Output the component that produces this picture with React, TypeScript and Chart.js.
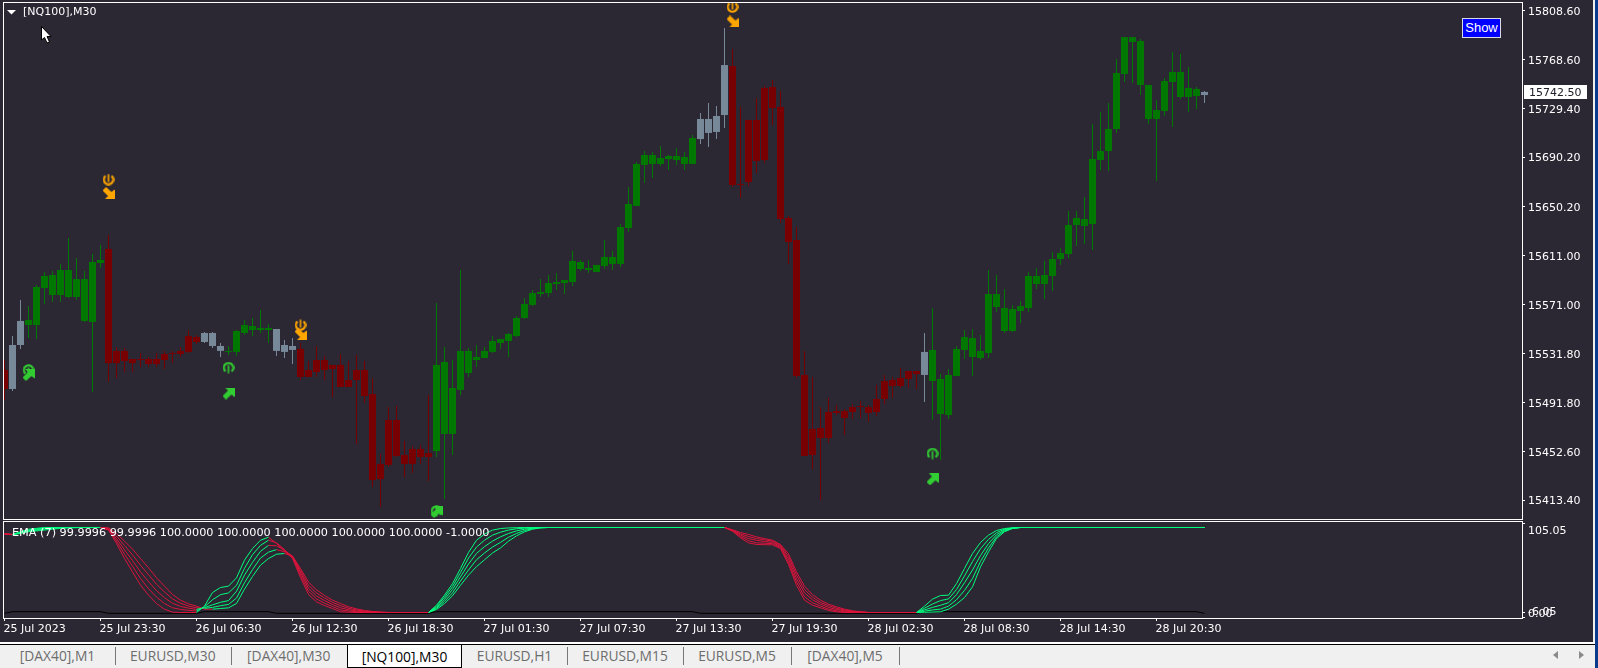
import React, { useEffect, useRef } from "react";
import { Chart, registerables } from "chart.js";

Chart.register(...registerables);

const FONT = "'DejaVu Sans'";
const BG = "#2b2733";
const FRAME = "#ffffff";

const chartTitle = "[NQ100],M30";
const indicatorLegend = "EMA (7) 99.9996 99.9996 100.0000 100.0000 100.0000 100.0000 100.0000 -1.0000";
const lastPrice = 15742.5;

const priceTicks = [15808.6, 15768.6, 15729.4, 15690.2, 15650.2, 15611.0, 15571.0, 15531.8, 15491.8, 15452.6, 15413.4];
const timeTickBars = [0, 12, 24, 36, 48, 60, 72, 84, 96, 108, 120, 132, 144];
const timeTickLabels = ["25 Jul 2023", "25 Jul 23:30", "26 Jul 06:30", "26 Jul 12:30", "26 Jul 18:30", "27 Jul 01:30", "27 Jul 07:30", "27 Jul 13:30", "27 Jul 19:30", "28 Jul 02:30", "28 Jul 08:30", "28 Jul 14:30", "28 Jul 20:30"];
const tabNames = ["[DAX40],M1", "EURUSD,M30", "[DAX40],M30", "[NQ100],M30", "EURUSD,H1", "EURUSD,M15", "EURUSD,M5", "[DAX40],M5"];
const tabEdges = [0, 115, 230.5, 347, 462, 567, 683, 791, 899];

// r = bearish, g = bullish, n = neutral
const barTrend =
  "r" + "nn" + "gggggggggg" + "rrrrrrrrrrrr" + "nnn" + "gggggg" + "nnn" + "rrrrrrrrrrrrrrrrr" +
  "ggggggggggggggggggggggggggggggggg" + "nnnn" + "rrrrrrrrrrrrrrrrrrrrrrrr" + "n" +
  "gggggggggggggggggggggggggggggggggg" + "n";

const barHigh = [
  15526.4, 15545.7, 15574.8, 15569.9, 15586.9, 15597.4, 15598.2, 15603.9, 15624.8, 15608.7, 15598.2, 15611.9, 15619.2,
  15627.3, 15536.9, 15536.1, 15527.2, 15532.0, 15528.8, 15532.0, 15533.7, 15533.7, 15536.9, 15550.6, 15546.6,
  15549.0, 15549.0, 15540.1, 15537.7, 15550.6, 15558.7, 15560.3, 15566.7, 15555.4, 15551.4, 15542.5, 15544.1,
  15540.1, 15525.6, 15537.7, 15529.6, 15522.4, 15531.2, 15525.6, 15530.4, 15525.6, 15511.9, 15450.5, 15488.4, 15489.2, 15461.0, 15457.0, 15457.8, 15498.1,
  15572.4, 15536.9, 15526.4, 15599.0, 15536.1, 15538.5, 15536.9, 15545.7, 15543.3, 15548.2, 15561.9, 15576.4, 15582.9, 15591.7, 15595.0, 15596.6, 15590.9, 15614.3, 15607.1, 15607.1, 15603.1, 15623.2, 15614.3, 15636.1, 15666.0, 15686.2, 15695.0, 15694.2, 15699.1, 15691.8, 15697.5, 15694.2, 15708.0,
  15725.7, 15733.8, 15731.4, 15794.3,
  15777.4, 15730.6, 15720.1, 15737.8, 15747.5, 15752.3, 15743.5, 15642.6, 15633.7, 15533.7, 15512.7, 15488.4, 15495.7, 15490.1, 15486.8, 15490.9, 15493.3, 15490.1, 15506.2, 15514.3, 15512.7, 15519.9, 15517.5, 15517.5,
  15548.2,
  15568.3, 15515.1, 15519.1, 15537.7, 15550.6, 15551.4, 15546.6, 15599.0, 15595.0, 15583.7, 15570.8, 15574.0, 15597.4, 15600.6, 15606.3, 15613.5, 15616.8, 15646.6, 15646.6, 15657.9, 15716.8, 15726.5, 15733.8, 15769.3, 15787.0, 15787.0, 15785.4, 15748.3, 15736.2, 15753.9, 15775.0, 15773.3, 15762.8, 15746.7,
  15743.5,
];

const bodyHigh = [
  15518.3, 15538.5, 15557.9, 15558.7, 15585.3, 15594.2, 15595.0, 15599.0, 15599.0, 15591.7, 15591.7, 15605.5, 15607.1,
  15616.0, 15533.7, 15533.7, 15527.2, 15527.2, 15527.2, 15527.2, 15531.2, 15532.0, 15533.7, 15545.7, 15544.9,
  15548.2, 15548.2, 15537.7, 15533.7, 15549.8, 15554.6, 15553.8, 15552.2, 15552.2, 15551.4, 15538.5, 15537.7,
  15535.3, 15518.3, 15526.4, 15526.4, 15522.4, 15522.4, 15510.2, 15518.3, 15518.3, 15498.9, 15442.5, 15478.0, 15478.0, 15449.7, 15454.6, 15454.6, 15451.3,
  15522.4, 15524.8, 15503.8, 15533.7, 15533.7, 15528.8, 15533.7, 15541.7, 15543.3, 15547.4, 15560.3, 15571.6, 15580.4, 15581.2, 15588.5, 15589.3, 15590.9, 15606.3, 15605.5, 15600.6, 15603.1, 15609.5, 15609.5, 15633.7, 15652.3, 15684.6, 15691.8, 15691.8, 15689.4, 15691.0, 15691.0, 15690.2, 15705.5,
  15720.9, 15720.9, 15723.3, 15764.4,
  15763.6, 15668.4, 15720.1, 15720.1, 15745.9, 15746.7, 15730.6, 15641.0, 15623.2, 15514.3, 15470.7, 15471.5, 15484.4, 15485.2, 15485.2, 15488.4, 15489.2, 15488.4, 15494.9, 15509.4, 15510.2, 15511.9, 15517.5, 15517.5,
  15532.9,
  15534.5, 15511.1, 15514.3, 15535.3, 15544.9, 15544.1, 15533.7, 15579.6, 15579.6, 15568.3, 15567.5, 15569.9, 15594.2, 15594.2, 15595.0, 15607.9, 15612.7, 15635.3, 15641.0, 15640.2, 15688.6, 15695.0, 15712.8, 15758.0, 15787.0, 15787.0, 15783.8, 15748.3, 15728.1, 15751.5, 15758.8, 15758.8, 15745.9, 15745.1,
  15742.7,
];

const bodyLow = [
  15503.0, 15503.0, 15538.5, 15554.6, 15554.6, 15584.5, 15578.8, 15578.8, 15577.2, 15577.2, 15557.9, 15557.1, 15604.7,
  15523.9, 15523.9, 15525.6, 15523.9, 15526.4, 15523.2, 15523.2, 15526.4, 15531.2, 15531.2, 15532.9, 15540.9,
  15540.9, 15537.7, 15533.7, 15532.9, 15532.9, 15548.2, 15550.6, 15550.6, 15550.6, 15533.7, 15532.9, 15534.5,
  15512.7, 15512.7, 15516.7, 15518.3, 15519.1, 15504.6, 15504.6, 15510.2, 15497.3, 15429.5, 15430.3, 15441.7, 15448.9, 15442.5, 15442.5, 15448.1, 15448.1,
  15452.9, 15466.7, 15466.7, 15502.2, 15515.9, 15526.4, 15528.0, 15532.9, 15540.1, 15541.7, 15545.7, 15560.3, 15570.8, 15579.6, 15580.4, 15587.7, 15588.5, 15589.3, 15599.8, 15599.0, 15597.4, 15602.3, 15603.9, 15603.9, 15632.9, 15650.7, 15683.8, 15684.6, 15684.6, 15688.6, 15687.8, 15684.6, 15684.6,
  15704.7, 15709.6, 15710.4, 15724.1,
  15667.6, 15667.6, 15670.0, 15687.0, 15687.8, 15729.7, 15640.2, 15621.6, 15513.5, 15448.9, 15449.7, 15463.4, 15463.4, 15483.6, 15479.6, 15484.4, 15488.4, 15483.6, 15484.4, 15494.9, 15505.4, 15505.4, 15511.1, 15515.1,
  15514.3,
  15509.4, 15482.8, 15482.0, 15513.5, 15534.5, 15528.8, 15528.0, 15532.0, 15569.1, 15549.8, 15549.8, 15565.9, 15568.3, 15587.7, 15587.7, 15594.2, 15607.9, 15611.9, 15635.3, 15634.5, 15636.1, 15687.8, 15695.0, 15712.8, 15757.2, 15783.0, 15748.3, 15720.9, 15720.9, 15727.3, 15750.7, 15738.6, 15738.6, 15739.4,
  15740.2,
];

const barLow = [
  15494.1, 15501.4, 15535.3, 15544.1, 15543.3, 15571.6, 15573.2, 15573.2, 15576.4, 15574.8, 15557.1, 15500.6, 15600.6,
  15508.6, 15511.9, 15516.7, 15516.7, 15520.7, 15520.7, 15520.7, 15519.1, 15523.9, 15528.8, 15532.0, 15539.3,
  15540.1, 15536.1, 15528.8, 15530.4, 15529.6, 15546.6, 15545.7, 15548.2, 15540.1, 15529.6, 15528.0, 15523.2,
  15510.2, 15512.7, 15512.7, 15510.2, 15496.5, 15504.6, 15504.6, 15458.6, 15491.7, 15423.9, 15407.7, 15440.0, 15448.1, 15432.0, 15435.2, 15442.5, 15428.7,
  15448.1, 15414.2, 15449.7, 15498.1, 15512.7, 15520.7, 15528.0, 15532.0, 15535.3, 15528.8, 15544.9, 15559.5, 15569.9, 15577.2, 15577.2, 15582.9, 15579.6, 15586.1, 15598.2, 15596.6, 15597.4, 15599.8, 15599.0, 15601.4, 15629.7, 15650.7, 15669.2, 15673.2, 15683.0, 15679.7, 15683.8, 15679.7, 15684.6,
  15700.7, 15698.3, 15704.7, 15713.6,
  15666.0, 15657.1, 15666.8, 15677.3, 15685.4, 15716.0, 15636.9, 15603.9, 15511.9, 15448.9, 15438.4, 15413.4, 15459.4, 15482.0, 15465.9, 15478.8, 15479.6, 15476.4, 15481.2, 15490.9, 15495.7, 15503.8, 15503.8, 15503.0,
  15492.5,
  15478.0, 15445.7, 15478.8, 15513.5, 15527.2, 15513.5, 15526.4, 15528.0, 15565.1, 15548.2, 15549.0, 15556.2, 15565.1, 15583.7, 15575.6, 15582.1, 15603.1, 15608.7, 15618.4, 15620.0, 15615.2, 15679.7, 15678.9, 15709.6, 15750.7, 15749.9, 15740.2, 15716.8, 15670.8, 15723.3, 15714.4, 15737.0, 15726.5, 15728.9,
  15733.8,
];

const buyRingBars = [3, 28, 54, 116];
const buyRingPrices = [15518.3, 15520.2, 15404.5, 15450.9];
const buyArrowBars = [3, 28, 54, 116];
const buyArrowPrices = [15514.3, 15499.3, 15403.7, 15430.0];
const sellRingBars = [13, 37, 91];
const sellRingPrices = [15672.0, 15554.6, 15811.3];
const sellArrowBars = [13, 37, 91];
const sellArrowPrices = [15661.2, 15547.4, 15799.6];

const emaFast = [
  92.5, 91.9, 95, 98, 99, 100, 100, 100, 100, 100, 100, 100, 100,
  96.9, 81.2, 63.5, 47.8, 32.2, 20.4, 10.6, 3.9, 0.4, 0, 0, 0,
  7.5, 23.5, 29.4, 31, 40.8, 61.6, 75.3, 85, 88.6, 81.2, 72.5, 63.5,
  41.2, 21.2, 12.5, 8.2, 4.7, 0.8, 0.4, 0, 0, 0, 0,
  0, 0, 0, 0, 0, 0,
  8.6, 20.4, 34, 51.8, 70.6, 85, 92.2, 96.9, 98.8, 99.5, 99.8, 100, 100, 100,
  100, 100, 100, 100, 100, 100, 100, 100, 100, 100, 100, 100, 100, 100, 100, 100, 100, 100, 100, 100, 100, 100, 100,
  95.7, 87.8, 82, 80, 79.8, 79.6, 75.3, 56.5, 32, 14.5, 8.6, 5.5, 2.4, 0.8, 0, 0, 0,
  0, 0, 0, 0, 0, 0, 0,
  7.5, 15.7, 20, 20.4, 34, 51.8, 69.4, 82.4, 91, 96.5, 98.8, 99.7,
  100, 100, 100, 100, 100, 100, 100, 100, 100, 100, 100, 100, 100, 100, 100, 100, 100, 100, 100, 100, 100, 100, 100, 100,
];
const emaSecond = [
  92.5, 91.8, 94.5, 97, 98.3, 99.4, 100, 100, 100, 100, 100, 100, 100,
  97.6, 84.1, 68.6, 54.5, 40, 28, 18.2, 10.6, 5.6, 3.6, 2.5, 1.9,
  6.6, 15, 21, 23, 32, 52, 68, 79, 85, 82, 74, 65,
  44, 25, 16, 11, 7, 3, 1.8, 1, 0.5, 0.2, 0,
  0, 0, 0, 0, 0, 0,
  7.3, 18, 30.5, 47, 64, 77, 85, 91, 94.5, 97, 98.5, 99.3, 99.7, 100,
  100, 100, 100, 100, 100, 100, 100, 100, 100, 100, 100, 100, 100, 100, 100, 100, 100, 100, 100, 100, 100, 100, 100,
  96, 89.4, 84.5, 82, 81.5, 81, 76.5, 59.5, 36, 18.5, 11.5, 7.5, 4, 2, 1, 0.5, 0.2,
  0, 0, 0, 0, 0, 0, 0,
  5, 10, 14, 16, 27, 43, 60, 75, 86, 94, 98, 99.5,
  100, 100, 100, 100, 100, 100, 100, 100, 100, 100, 100, 100, 100, 100, 100, 100, 100, 100, 100, 100, 100, 100, 100, 100,
];
const emaThird = [
  92.5, 91.7, 94, 96.3, 97.6, 98.7, 99.5, 100, 100, 100, 100, 100, 100,
  98.2, 87, 73.7, 61.1, 47.8, 36.4, 25.7, 17.4, 10.8, 7.2, 5.1, 3.7,
  5.7, 9, 12, 14, 25, 44, 59, 72, 79, 78.5, 73, 66,
  47, 28.5, 19.5, 14, 9.5, 5.5, 3.3, 2, 1, 0.5, 0.2,
  0, 0, 0, 0, 0, 0,
  6, 15.5, 27, 42, 57, 69.5, 77.5, 84, 89, 93, 96, 98, 99.2, 99.8,
  100, 100, 100, 100, 100, 100, 100, 100, 100, 100, 100, 100, 100, 100, 100, 100, 100, 100, 100, 100, 100, 100, 100,
  96.5, 91, 87, 85, 83.5, 82.5, 77.7, 62.7, 40, 23, 15, 10, 6, 3.5, 2, 1, 0.4,
  0, 0, 0, 0, 0, 0, 0,
  3, 6, 8.5, 11.5, 21, 35, 50, 67, 81, 91.5, 97, 99.3,
  100, 100, 100, 100, 100, 100, 100, 100, 100, 100, 100, 100, 100, 100, 100, 100, 100, 100, 100, 100, 100, 100, 100, 100,
];
const emaFourth = [
  92.5, 91.6, 93.5, 95.6, 96.8, 98, 98.9, 99.5, 100, 100, 100, 100, 100,
  98.9, 90, 78.8, 67.8, 55.6, 44.4, 33.2, 24.2, 16, 10.9, 7.6, 5.6,
  4.8, 6, 8, 9.5, 17, 35, 50.5, 64, 71, 74, 71.5, 66.5,
  49.5, 32, 23, 17, 12, 8, 5, 3, 1.7, 0.8, 0.3,
  0, 0, 0, 0, 0, 0,
  4.8, 13, 23, 37, 50, 62, 70, 77, 82.5, 88.5, 93, 96.5, 98.5, 99.7,
  100, 100, 100, 100, 100, 100, 100, 100, 100, 100, 100, 100, 100, 100, 100, 100, 100, 100, 100, 100, 100, 100, 100,
  97, 92.5, 89.4, 87, 85.5, 84, 79, 66, 44, 27, 18, 12, 8, 5, 3, 1.5, 0.6,
  0, 0, 0, 0, 0, 0, 0,
  1.5, 3, 4, 7.5, 15, 26, 40, 60, 76, 89, 96, 99,
  100, 100, 100, 100, 100, 100, 100, 100, 100, 100, 100, 100, 100, 100, 100, 100, 100, 100, 100, 100, 100, 100, 100, 100,
];
const emaSlow = [
  92.5, 91.5, 93, 95, 96, 97, 98, 99, 99.5, 99.8, 100, 100, 100,
  99.6, 92.9, 83.9, 74.5, 63.5, 52.5, 40.8, 31, 21.2, 14.5, 10.2, 7.5,
  3.9, 3.9, 4.7, 5.5, 10.6, 27.5, 42.4, 55.7, 63.5, 68.6, 69.4, 66.3,
  51.8, 35.7, 26.7, 20, 14.5, 10.6, 6.7, 4.3, 2.4, 1.2, 0.4,
  0, 0, 0, 0, 0, 0,
  3.5, 10.6, 19.6, 32, 43.9, 54, 62, 70, 76, 83.9, 90.2, 94.9, 98, 99.6,
  100, 100, 100, 100, 100, 100, 100, 100, 100, 100, 100, 100, 100, 100, 100, 100, 100, 100, 100, 100, 100, 100, 100,
  97.3, 94.1, 91.8, 89, 87, 85, 80, 69, 47.8, 31, 21.2, 14.5, 9.8, 6.7, 3.9, 2, 0.8,
  0, 0, 0, 0, 0, 0, 0,
  0.3, 0.6, 0.9, 3.9, 9.8, 17.6, 30.2, 53.7, 71.4, 87, 95, 98.8,
  100, 100, 100, 100, 100, 100, 100, 100, 100, 100, 100, 100, 100, 100, 100, 100, 100, 100, 100, 100, 100, 100, 100, 100,
];
const emaSignal = [
  -1,
  1, 1, 1, 1, 1, 1, 1, 1, 1, 1, 1, 1,
  -1, -1, -1, -1, -1, -1, -1, -1, -1, -1, -1, -1,
  1, 1, 1, 1, 1, 1, 1, 1, 1,
  -1, -1, -1, -1, -1, -1, -1, -1, -1, -1, -1, -1, -1, -1, -1, -1, -1, -1, -1, -1,
  1, 1, 1, 1, 1, 1, 1, 1, 1, 1, 1, 1, 1, 1, 1, 1, 1, 1, 1, 1, 1, 1, 1, 1, 1, 1, 1, 1, 1, 1, 1, 1, 1,
  -1, -1, -1, -1, -1, -1, -1, -1, -1, -1, -1, -1, -1, -1, -1, -1, -1, -1, -1, -1, -1, -1, -1, -1, -1, -1, -1, -1,
  1, 1, 1, 1, 1, 1, 1, 1, 1, 1, 1, 1, 1, 1, 1, 1, 1, 1, 1, 1, 1, 1, 1, 1, 1, 1, 1, 1, 1, 1, 1, 1, 1, 1, 1,
  -1,
];
const emaTicks = [105.05, 0, -6.05];

const trendColor: Record<string, string> = { r: "#780000", g: "#007800", n: "#778899" };

function makeArrow(color: string, up: boolean) {
  const c = document.createElement("canvas");
  c.width = 12;
  c.height = 12;
  const g = c.getContext("2d")!;
  if (!up) {
    g.translate(0, 12);
    g.scale(1, -1);
  }
  g.fillStyle = color;
  g.beginPath();
  g.moveTo(2.5, 0);
  g.lineTo(12, 0);
  g.lineTo(12, 9.5);
  g.lineTo(9, 7);
  g.lineTo(3.5, 12);
  g.lineTo(0, 8.5);
  g.lineTo(5.5, 3);
  g.closePath();
  g.fill();
  return c;
}

function makeRing(color: string, up: boolean) {
  const c = document.createElement("canvas");
  c.width = 12;
  c.height = 12;
  const g = c.getContext("2d")!;
  if (!up) {
    g.translate(0, 12);
    g.scale(1, -1);
  }
  g.strokeStyle = color;
  g.lineWidth = 2.2;
  g.beginPath();
  g.arc(6, 6, 4.7, Math.PI * 0.72, Math.PI * 0.28);
  g.stroke();
  g.lineWidth = 1.6;
  g.beginPath();
  g.moveTo(6, 3.5);
  g.lineTo(6, 11.5);
  g.stroke();
  return c;
}

const noAutoPadding = (s: any) => {
  s.paddingLeft = 0;
  s.paddingRight = 0;
  s.paddingTop = 0;
  s.paddingBottom = 0;
};

const framePlugin = {
  id: "frame",
  afterDraw(chart: any) {
    const { ctx, chartArea: a } = chart;
    ctx.save();
    ctx.strokeStyle = FRAME;
    ctx.lineWidth = 1;
    ctx.strokeRect(a.left - 0.5, a.top - 0.5, a.right - a.left + 1, a.bottom - a.top + 1);
    ctx.restore();
  },
};

const mainOverlay = {
  id: "mainOverlay",
  afterDraw(chart: any) {
    const { ctx } = chart;
    const y = chart.scales.y.getPixelForValue(lastPrice);
    ctx.save();
    ctx.fillStyle = "#ffffff";
    ctx.fillRect(1524, Math.round(y) - 7, 63, 14);
    ctx.font = `11px ${FONT}`;
    ctx.textBaseline = "middle";
    ctx.fillStyle = "#20202a";
    ctx.fillText(lastPrice.toFixed(2), 1529, Math.round(y) + 1);
    ctx.fillStyle = "#ffffff";
    ctx.fillText(chartTitle, 23, 12.5);
    ctx.beginPath();
    ctx.moveTo(7, 10);
    ctx.lineTo(16, 10);
    ctx.lineTo(11.5, 14.5);
    ctx.closePath();
    ctx.fill();
    // mouse pointer
    ctx.beginPath();
    ctx.moveTo(41.5, 26.5);
    ctx.lineTo(41.5, 40);
    ctx.lineTo(44.5, 37.5);
    ctx.lineTo(47, 43);
    ctx.lineTo(49.5, 42);
    ctx.lineTo(47, 36.5);
    ctx.lineTo(51, 36.5);
    ctx.closePath();
    ctx.fillStyle = "#ffffff";
    ctx.fill();
    ctx.strokeStyle = "#000000";
    ctx.lineWidth = 1;
    ctx.stroke();
    ctx.restore();
  },
};

const indicatorOverlay = {
  id: "indicatorOverlay",
  afterDraw(chart: any) {
    const { ctx } = chart;
    ctx.save();
    ctx.font = `11.25px ${FONT}`;
    ctx.textBaseline = "middle";
    ctx.fillStyle = "#ffffff";
    ctx.fillText(indicatorLegend, 12, 13);
    ctx.restore();
  },
};

const bars = barHigh.map((_, i) => i);
const xRange = { min: -0.0625, max: 189.6875 };

export default function App() {
  const mainRef = useRef<HTMLCanvasElement>(null);
  const indRef = useRef<HTMLCanvasElement>(null);

  useEffect(() => {
    const colors = bars.map((i) => trendColor[barTrend[i]]);
    const markerDataset = (xs: number[], ys: number[], style: HTMLCanvasElement) => ({
      type: "scatter" as const,
      data: xs.map((x, k) => ({ x, y: ys[k] })),
      pointStyle: style,
      pointRadius: 6,
      clip: 0,
      order: 0,
    });
    const main = new Chart(mainRef.current!, {
      type: "bar",
      data: {
        datasets: [
          {
            data: bars.map((i) => ({ x: i, y: [bodyLow[i], bodyHigh[i]] })),
            backgroundColor: colors,
            barThickness: 7,
            maxBarThickness: 7,
            grouped: false,
            borderWidth: 0,
            inflateAmount: 0,
            order: 1,
          },
          {
            data: bars.map((i) => ({ x: i, y: [barLow[i], barHigh[i]] })),
            backgroundColor: colors,
            barThickness: 1,
            maxBarThickness: 1,
            grouped: false,
            borderWidth: 0,
            inflateAmount: 0,
            order: 2,
          },
          markerDataset(buyRingBars, buyRingPrices, makeRing("#32cd32", true)),
          markerDataset(buyArrowBars, buyArrowPrices, makeArrow("#32cd32", true)),
          markerDataset(sellRingBars, sellRingPrices, makeRing("#ffa500", false)),
          markerDataset(sellArrowBars, sellArrowPrices, makeArrow("#ffa500", false)),
        ] as any,
      },
      options: {
        responsive: false,
        animation: false,
        devicePixelRatio: 1,
        layout: { autoPadding: false, padding: { left: 4, top: 3, right: 0, bottom: 1 } },
        plugins: { legend: { display: false }, tooltip: { enabled: false } },
        scales: {
          x: { type: "linear", display: false, offset: false, afterFit: noAutoPadding, ...xRange },
          y: {
            position: "right",
            min: 15398.07,
            max: 15814.48,
            afterFit: (s: any) => { s.width = 76; noAutoPadding(s); },
            afterBuildTicks: (s: any) => { s.ticks = priceTicks.map((value) => ({ value })); },
            grid: { drawOnChartArea: false, tickLength: 3, color: FRAME, tickWidth: 1 },
            border: { display: false },
            ticks: {
              autoSkip: false,
              padding: 3,
              labelOffset: 1.5,
              color: "#ffffff",
              font: { family: FONT, size: 11 },
              callback: (v: any) => Number(v).toFixed(2),
            },
          },
        },
      } as any,
      plugins: [framePlugin, mainOverlay],
    });

    const emaDataset = (values: number[]) => ({
      data: bars.map((i) => ({ x: i, y: values[i] })),
      borderWidth: 1,
      pointRadius: 0,
      tension: 0,
      borderColor: "#00ff7f",
      segment: {
        borderColor: (c: any) => {
          const a = c.p0.parsed.y;
          const b = c.p1.parsed.y;
          return b > a || (b === a && b > 50) ? "#00ff7f" : "#dc143c";
        },
      },
    });
    const ind = new Chart(indRef.current!, {
      type: "line",
      data: {
        datasets: [
          emaDataset(emaFast),
          emaDataset(emaSecond),
          emaDataset(emaThird),
          emaDataset(emaFourth),
          emaDataset(emaSlow),
          {
            data: bars.map((i) => ({ x: i, y: emaSignal[i] })),
            borderWidth: 1,
            pointRadius: 0,
            tension: 0,
            borderColor: "#000000",
          },
        ] as any,
      },
      options: {
        responsive: false,
        animation: false,
        devicePixelRatio: 1,
        layout: { autoPadding: false, padding: { left: 4, top: 2, right: 0, bottom: 0 } },
        plugins: { legend: { display: false }, tooltip: { enabled: false } },
        scales: {
          x: {
            type: "linear",
            offset: false,
            ...xRange,
            afterFit: (s: any) => { s.height = 24; noAutoPadding(s); },
            afterBuildTicks: (s: any) => { s.ticks = timeTickBars.map((value) => ({ value })); },
            grid: { drawOnChartArea: false, tickLength: 3, color: FRAME },
            border: { display: false },
            ticks: {
              autoSkip: false,
              maxRotation: 0,
              align: "start",
              labelOffset: -1,
              padding: 2,
              color: "#ffffff",
              font: { family: FONT, size: 11 },
              callback: (v: any) => timeTickLabels[timeTickBars.indexOf(Number(v))],
            },
          },
          y: {
            position: "right",
            min: -6.47,
            max: 106.47,
            afterFit: (s: any) => { s.width = 76; noAutoPadding(s); },
            afterBuildTicks: (s: any) => { s.ticks = emaTicks.map((value) => ({ value })); },
            grid: { drawOnChartArea: false, tickLength: 3, color: FRAME },
            border: { display: false },
            ticks: {
              autoSkip: false,
              padding: 3,
              labelOffset: 1.5,
              color: "#ffffff",
              font: { family: FONT, size: 11 },
              // MT4 hangs the top label under its tick and lifts the bottom one: blank lines do the same here
              callback: (v: any) => {
                const n = Number(v);
                if (n > 100) return ["", n.toFixed(2)];
                if (n < 0) return [n.toFixed(2), ""];
                return n.toFixed(2);
              },
            },
          },
        },
      } as any,
      plugins: [framePlugin, indicatorOverlay],
    });
    return () => {
      main.destroy();
      ind.destroy();
    };
  }, []);

  const abs = (l: number, t: number, w: number, h: number): React.CSSProperties => ({
    position: "absolute",
    left: l,
    top: t,
    width: w,
    height: h,
  });

  return (
    <div style={{ ...abs(0, 0, 1598, 668), background: BG, overflow: "hidden" }}>
      <canvas ref={mainRef} width={1598} height={520} style={{ ...abs(0, 0, 1598, 520), display: "block" }} />
      <canvas ref={indRef} width={1598} height={122} style={{ ...abs(0, 520, 1598, 122), display: "block" }} />
      <div
        style={{
          ...abs(1462, 18, 39, 20),
          boxSizing: "border-box",
          background: "#0000ff",
          border: "1px solid #d8d8e8",
          color: "#fff",
          font: "13px 'Liberation Sans'",
          lineHeight: "18px",
          textAlign: "center",
        }}
      >
        Show
      </div>
      <div style={{ ...abs(1593, 0, 2, 668), background: "#f0f0f0" }} />
      <div style={{ ...abs(1595, 0, 3, 668), background: "#0a3a8a" }} />
      <div style={{ ...abs(0, 642, 1595, 2), background: "#ffffff" }} />
      <div style={{ ...abs(0, 644, 1595, 24), background: "#f0f0f0", borderTop: "1px solid #000", boxSizing: "border-box" }} />
      {tabNames.map((name, i) => {
        const active = name === chartTitle;
        const left = tabEdges[i];
        const width = tabEdges[i + 1] - left;
        return (
          <div
            key={name}
            style={{
              ...abs(left, 644, width, 24),
              boxSizing: "border-box",
              textAlign: "center",
              font: "13.8px 'Open Sans'",
              lineHeight: "23px",
              color: active ? "#000" : "#6d6d6d",
              background: active ? "#fff" : "transparent",
              border: active ? "1px solid #000" : "none",
            }}
          >
            {name}
          </div>
        );
      })}
      {tabEdges.slice(1).map((x, i) =>
        tabNames[i] === chartTitle || tabNames[i + 1] === chartTitle ? null : (
          <div key={x} style={{ ...abs(x, 647, 1, 18), background: "#777" }} />
        )
      )}
      <div
        style={{
          ...abs(1553, 651, 0, 0),
          borderTop: "4px solid transparent",
          borderBottom: "4px solid transparent",
          borderRight: "5px solid #8a8a8a",
        }}
      />
      <div
        style={{
          ...abs(1579, 651, 0, 0),
          borderTop: "4px solid transparent",
          borderBottom: "4px solid transparent",
          borderLeft: "5px solid #8a8a8a",
        }}
      />
    </div>
  );
}
